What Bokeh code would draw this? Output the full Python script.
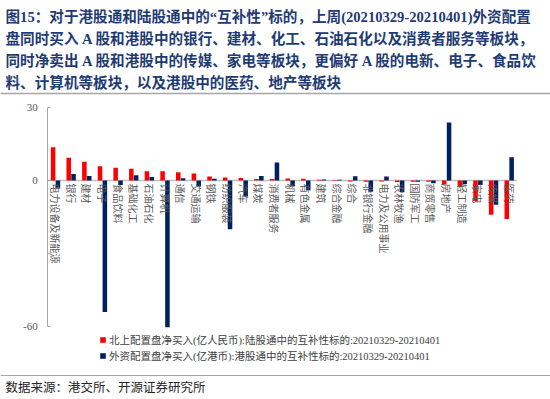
import math
from bokeh.plotting import figure
from bokeh.models import (ColumnDataSource, Range1d, LinearAxis, FixedTicker,
                          Label, Legend, LegendItem, Span)
from bokeh.transform import dodge
from bokeh.core.properties import value
from bokeh.embed import file_html
from bokeh.resources import INLINE

# ---------------- data ----------------
categories = ["电力设备及新能源", "银行", "建材", "电子", "食品饮料", "基础化工", "石油石化",
              "计算机", "通信", "交通运输", "钢铁", "纺织服装", "汽车", "煤炭", "消费者服务",
              "机械", "有色金属", "建筑", "综合金融", "综合", "非银行金融", "电力及公用事业",
              "农林牧渔", "国防军工", "商贸零售", "房地产", "轻工制造", "家电", "传媒", "医药"]
north = [13.7, 9.3, 7.7, 5.9, 5.2, 4.8, 3.8, 3.8, 3.4, 2.9, 1.6, 1.2, 1.0, 0.6, 0.6,
         0.8, 0.7, 0.3, 0.2, -0.4, -0.5, -0.4, -0.6, -0.5, -0.5, -1.6, -2.8, -8.5, -14.1, -15.8]
south = [-3.0, 2.7, 1.9, -54.0, -1.9, 2.2, 1.4, -60.3, 0.9, -2.5, 0.7, -20.0, -6.6, 1.8, 7.4,
         -2.3, -4.0, 0.4, 0.3, 1.7, -4.6, 1.6, -4.8, -0.5, -1.1, 23.8, -1.4, -1.9, -10.0, 9.6]
y_ticks = [-60, -30, 0, 30]
y_tick_labels = {30: "30", 0: "0", -30: "", -60: "-60"}

title_lines = [
    "图15：对于港股通和陆股通中的“互补性”标的，上周(20210329-20210401)外资配置",
    "盘同时买入 A 股和港股中的银行、建材、化工、石油石化以及消费者服务等板块，",
    "同时净卖出 A 股和港股中的传媒、家电等板块，更偏好 A 股的电新、电子、食品饮",
    "料、计算机等板块，以及港股中的医药、地产等板块",
]
legend_north = "北上配置盘净买入(亿人民币):陆股通中的互补性标的:20210329-20210401"
legend_south = "外资配置盘净买入(亿港币):港股通中的互补性标的:20210329-20210401"
source_note = "数据来源：港交所、开源证券研究所"

# ---------------- layout constants (canvas pixels) ----------------
W, H = 550, 399
ZERO_PX = 180.0
PX_PER_UNIT = 219.0 / 90.0
FIRST_PX = 55.0
STEP_PX = 15.645

y_end = ZERO_PX / PX_PER_UNIT
y_start = -(H - ZERO_PX) / PX_PER_UNIT
x_start = -FIRST_PX / STEP_PX
x_end = (W - FIRST_PX) / STEP_PX


def px_x(px):
    return x_start + px / STEP_PX


def px_y(py):
    return y_end - py / PX_PER_UNIT


n = len(categories)
RED = "#ff0000"
NAVY = "#002060"
TITLE_COLOR = "#1f3b73"
MIXED_FONT = "Liberation Serif, Noto Sans CJK SC"

p = figure(width=W, height=H, x_range=Range1d(x_start, x_end),
           y_range=Range1d(y_start, y_end), output_backend="svg",
           toolbar_location=None, x_axis_location=None, y_axis_location=None,
           min_border=0)
p.min_border_left = p.min_border_right = p.min_border_top = p.min_border_bottom = 0
p.outline_line_color = None
p.background_fill_color = "white"
p.border_fill_color = "white"
p.grid.visible = False

# y axis
yaxis = LinearAxis(fixed_location=-0.5, bounds=(y_ticks[0], y_ticks[-1]),
                   ticker=FixedTicker(ticks=y_ticks),
                   major_label_overrides=y_tick_labels)
yaxis.axis_line_color = "#a6a6a6"
yaxis.axis_line_width = 1
yaxis.major_tick_line_color = "#a6a6a6"
yaxis.major_tick_in = 3
yaxis.major_tick_out = 0
yaxis.minor_tick_line_color = None
yaxis.major_label_text_font = "Liberation Serif"
yaxis.major_label_text_font_size = "11px"
yaxis.major_label_text_color = "#595959"
yaxis.major_label_standoff = 10
p.add_layout(yaxis, "left")

src = ColumnDataSource(dict(idx=list(range(n)), cat=categories, north=north, south=south))

# zero line
p.segment(x0=[-0.5], x1=[n - 0.5], y0=[0], y1=[0], line_color="#bfbfbf", line_width=1.5)

r1 = p.vbar(x=dodge("idx", -0.155, range=p.x_range), top="north", bottom=0, width=0.29,
            source=src, fill_color=RED, line_color=None)
r2 = p.vbar(x=dodge("idx", 0.155, range=p.x_range), top="south", bottom=0, width=0.29,
            source=src, fill_color=NAVY, line_color=None)

# category labels (rotated, hanging below the zero line)
p.text(x="idx", y=-3 / PX_PER_UNIT, text="cat", source=src, angle=-math.pi / 2,
       text_align="left", text_baseline="middle",
       text_font=value("Noto Sans CJK SC"), text_font_size="10px", text_color="#595959")

# title lines
title_centers = [16, 38, 60, 82]
for line, cy in zip(title_lines, title_centers):
    p.add_layout(Label(x=px_x(5), y=px_y(cy), text=line, text_font=MIXED_FONT,
                       text_font_style="bold", text_font_size="14.6px",
                       text_color=TITLE_COLOR, text_align="left", text_baseline="middle"))

# separators
p.add_layout(Span(location=px_y(93), dimension="width", line_color="#a6a6a6", line_width=1.5))
p.add_layout(Span(location=px_y(375), dimension="width", line_color="#a6a6a6", line_width=1))

# source note
p.add_layout(Label(x=px_x(5), y=px_y(386), text=source_note, text_font="Noto Sans CJK SC",
                   text_font_size="12.5px", text_color="#262626", text_align="left",
                   text_baseline="middle"))

legend = Legend(items=[LegendItem(label=legend_north, renderers=[r1]),
                       LegendItem(label=legend_south, renderers=[r2])],
                location=(99, H - 363), orientation="vertical", padding=0, spacing=1,
                glyph_width=7, glyph_height=7, label_height=14, label_standoff=3,
                label_text_font=MIXED_FONT, label_text_font_size="10.5px",
                label_text_color="#404040", border_line_color=None,
                background_fill_alpha=0, margin=0)
p.add_layout(legend)

open("out.html", "w").write(file_html(p, INLINE))
